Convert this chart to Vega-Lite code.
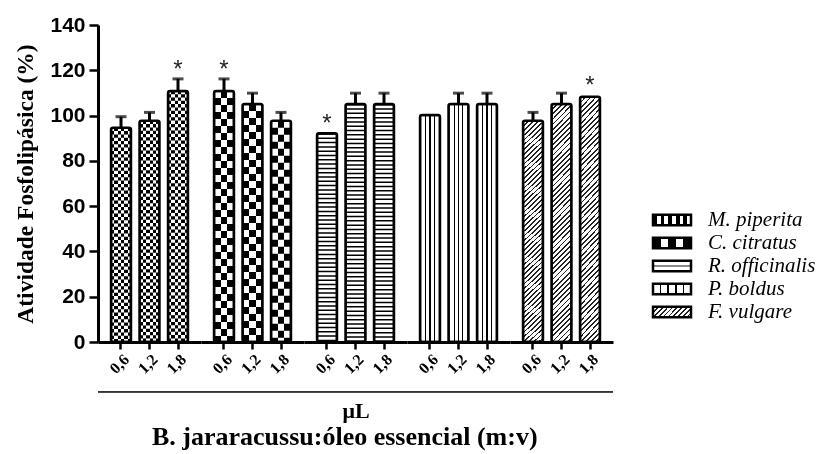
{
  "$schema": "https://vega.github.io/schema/vega-lite/v6.json",
  "padding": {"left": 13, "top": 14, "right": 4, "bottom": 4},
  "background": "white",
  "data": {"values": [
    {"species": "M. piperita", "dose": "0,6", "value": 94.6, "upper": 99.5, "star": null},
    {"species": "M. piperita", "dose": "1,2", "value": 97.7, "upper": 101.4, "star": null},
    {"species": "M. piperita", "dose": "1,8", "value": 110.9, "upper": 116.2, "star": 117},
    {"species": "C. citratus", "dose": "0,6", "value": 110.9, "upper": 116.2, "star": 117},
    {"species": "C. citratus", "dose": "1,2", "value": 105.1, "upper": 109.9, "star": null},
    {"species": "C. citratus", "dose": "1,8", "value": 97.7, "upper": 101.4, "star": null},
    {"species": "R. officinalis", "dose": "0,6", "value": 92.2, "upper": 92.2, "star": 93},
    {"species": "R. officinalis", "dose": "1,2", "value": 105.1, "upper": 109.9, "star": null},
    {"species": "R. officinalis", "dose": "1,8", "value": 105.1, "upper": 109.9, "star": null},
    {"species": "P. boldus", "dose": "0,6", "value": 100.3, "upper": 100.3, "star": null},
    {"species": "P. boldus", "dose": "1,2", "value": 105.1, "upper": 109.9, "star": null},
    {"species": "P. boldus", "dose": "1,8", "value": 105.1, "upper": 109.9, "star": null},
    {"species": "F. vulgare", "dose": "0,6", "value": 97.7, "upper": 101.4, "star": null},
    {"species": "F. vulgare", "dose": "1,2", "value": 105.1, "upper": 109.9, "star": null},
    {"species": "F. vulgare", "dose": "1,8", "value": 108.3, "upper": 108.3, "star": 110}
  ]},
  "title": {"text": "B. jararacussu:óleo essencial (m:v)", "orient": "bottom", "anchor": "start", "frame": "group", "dx": 54, "font": "Liberation Serif", "fontSize": 26, "fontWeight": "bold", "color": "#000", "offset": 2},
  "bounds": "flush",
  "facet": {"column": {"field": "species", "type": "nominal",
    "sort": ["M. piperita", "C. citratus", "R. officinalis", "P. boldus", "F. vulgare"],
    "header": {"title": "μL", "titleOrient": "bottom", "labels": false, "titleFont": "Liberation Serif", "titleFontSize": 22, "titleFontWeight": "bold", "titleColor": "#000", "titlePadding": 14}}},
  "spacing": 0,
  "spec": {
    "width": 103,
    "height": 317,
    "layer": [
      {
        "mark": {"type": "bar", "cornerRadius": 2, "strokeWidth": 0},
        "encoding": {
          "x": {"field": "dose", "type": "nominal", "sort": ["0,6", "1,2", "1,8"],
            "scale": {"paddingInner": 0.3, "paddingOuter": 0.457},
            "axis": {"title": null, "orient": "bottom", "labelAngle": -45, "bandPosition": 0.5, "domainWidth": 3, "domainColor": "#000", "tickColor": "#000", "tickWidth": 2.5, "tickSize": 7, "labelFont": "Liberation Serif", "labelFontWeight": "bold", "labelFontSize": 16, "labelColor": "#000", "labelPadding": 2}},
          "y": {"field": "value", "type": "quantitative",
            "scale": {"domain": [0, 140], "nice": false},
            "axis": {"title": "Atividade Fosfolipásica (%)", "titleFont": "Liberation Serif", "titleFontSize": 23.5, "titleFontWeight": "bold", "titleColor": "#000", "titlePadding": 12,
              "values": [0, 10, 20, 30, 40, 50, 60, 70, 80, 90, 100, 110, 120, 130, 140],
              "labelExpr": "datum.value % 20 === 0 ? datum.label : ''",
              "labelFont": "Liberation Sans", "labelFontWeight": "bold", "labelFontSize": 21, "labelColor": "#000", "labelPadding": 4,
              "tickSize": {"condition": {"test": "datum.value % 20 === 0", "value": 9}, "value": 5},
              "tickWidth": 2.5, "tickColor": "#000", "domainWidth": 3, "domainColor": "#000", "grid": false}},
          "fill": {"field": "species", "type": "nominal",
            "scale": {"domain": ["M. piperita", "C. citratus", "R. officinalis", "P. boldus", "F. vulgare"],
              "range": [
                {"expr": "{gradient:'linear',x1:0,y1:0,x2:1,y2:0,stops:[{offset:0,color:'#000'},{offset:0.1,color:'#000'},{offset:0.1,color:'#fff'},{offset:0.2,color:'#fff'},{offset:0.2,color:'#000'},{offset:0.3,color:'#000'},{offset:0.3,color:'#fff'},{offset:0.4,color:'#fff'},{offset:0.4,color:'#000'},{offset:0.5,color:'#000'},{offset:0.5,color:'#fff'},{offset:0.6,color:'#fff'},{offset:0.6,color:'#000'},{offset:0.7,color:'#000'},{offset:0.7,color:'#fff'},{offset:0.8,color:'#fff'},{offset:0.8,color:'#000'},{offset:0.9,color:'#000'},{offset:0.9,color:'#fff'},{offset:1,color:'#fff'}]}"},
                {"expr": "{gradient:'linear',x1:0,y1:0,x2:1,y2:0,stops:[{offset:0,color:'#000'},{offset:0.2,color:'#000'},{offset:0.2,color:'#fff'},{offset:0.4,color:'#fff'},{offset:0.4,color:'#000'},{offset:0.6,color:'#000'},{offset:0.6,color:'#fff'},{offset:0.8,color:'#fff'},{offset:0.8,color:'#000'},{offset:1,color:'#000'}]}"},
                {"expr": "{gradient:'linear',x1:0,y1:0,x2:0,y2:1,stops:[{offset:0,color:'#fff'},{offset:0.42,color:'#fff'},{offset:0.42,color:'#888'},{offset:0.58,color:'#888'},{offset:0.58,color:'#fff'},{offset:1,color:'#fff'}]}"},
                {"expr": "{gradient:'linear',x1:0,y1:0,x2:1,y2:0,stops:[{offset:0,color:'#fff'},{offset:0.18,color:'#fff'},{offset:0.18,color:'#000'},{offset:0.22,color:'#000'},{offset:0.22,color:'#fff'},{offset:0.38,color:'#fff'},{offset:0.38,color:'#000'},{offset:0.42,color:'#000'},{offset:0.42,color:'#fff'},{offset:0.58,color:'#fff'},{offset:0.58,color:'#000'},{offset:0.62,color:'#000'},{offset:0.62,color:'#fff'},{offset:0.78,color:'#fff'},{offset:0.78,color:'#000'},{offset:0.82,color:'#000'},{offset:0.82,color:'#fff'},{offset:1,color:'#fff'}]}"},
                {"expr": "{gradient:'linear',x1:0,y1:0,x2:1.1814,y2:0.3109,stops:[{offset:0,color:'#222'},{offset:0.035,color:'#222'},{offset:0.035,color:'#fff'},{offset:0.1,color:'#fff'},{offset:0.1,color:'#222'},{offset:0.135,color:'#222'},{offset:0.135,color:'#fff'},{offset:0.2,color:'#fff'},{offset:0.2,color:'#222'},{offset:0.235,color:'#222'},{offset:0.235,color:'#fff'},{offset:0.3,color:'#fff'},{offset:0.3,color:'#222'},{offset:0.335,color:'#222'},{offset:0.335,color:'#fff'},{offset:0.4,color:'#fff'},{offset:0.4,color:'#222'},{offset:0.435,color:'#222'},{offset:0.435,color:'#fff'},{offset:0.5,color:'#fff'},{offset:0.5,color:'#222'},{offset:0.535,color:'#222'},{offset:0.535,color:'#fff'},{offset:0.6,color:'#fff'},{offset:0.6,color:'#222'},{offset:0.635,color:'#222'},{offset:0.635,color:'#fff'},{offset:0.7,color:'#fff'},{offset:0.7,color:'#222'},{offset:0.735,color:'#222'},{offset:0.735,color:'#fff'},{offset:0.8,color:'#fff'},{offset:0.8,color:'#222'},{offset:0.835,color:'#222'},{offset:0.835,color:'#fff'},{offset:0.9,color:'#fff'},{offset:0.9,color:'#222'},{offset:0.935,color:'#222'},{offset:0.935,color:'#fff'},{offset:1,color:'#fff'}]}"}
              ]},
            "legend": {"orient": "none", "legendX": 563, "legendY": 184, "title": null, "padding": 0,
              "symbolType": "M-2,-0.54H2V0.54H-2Z", "symbolSize": 361, "symbolStrokeColor": "#000", "symbolStrokeWidth": 2.5,
              "labelFont": "Liberation Serif", "labelFontStyle": "italic", "labelFontSize": 21, "labelColor": "#000", "labelOffset": 25, "rowPadding": 1}}
        }
      },
      {
        "transform": [{"filter": "datum.species === 'R. officinalis'"}],
        "mark": {"type": "bar", "cornerRadius": 2, "strokeWidth": 0, "fill": "#fff"},
        "encoding": {
          "x": {"field": "dose", "type": "nominal", "sort": ["0,6", "1,2", "1,8"]},
          "y": {"field": "value", "type": "quantitative"}
        }
      },
      {
        "transform": [{"filter": "datum.species === 'M. piperita'"}],
        "mark": {"type": "bar", "cornerRadius": 2, "strokeWidth": 0,
          "fill": {"gradient": "linear", "x1": 0, "y1": 0, "x2": 1, "y2": 0, "stops": [
            {"offset": 0, "color": "#000"}, {"offset": 0.1667, "color": "#000"}, {"offset": 0.1667, "color": "#fff"}, {"offset": 0.3333, "color": "#fff"},
            {"offset": 0.3333, "color": "#000"}, {"offset": 0.5, "color": "#000"}, {"offset": 0.5, "color": "#fff"}, {"offset": 0.6667, "color": "#fff"},
            {"offset": 0.6667, "color": "#000"}, {"offset": 0.8333, "color": "#000"}, {"offset": 0.8333, "color": "#fff"}, {"offset": 1, "color": "#fff"}]}},
        "encoding": {
          "x": {"field": "dose", "type": "nominal", "sort": ["0,6", "1,2", "1,8"]},
          "y": {"field": "value", "type": "quantitative"}
        }
      },
      {
        "transform": [{"filter": "datum.species === 'C. citratus'"}],
        "mark": {"type": "bar", "cornerRadius": 2, "strokeWidth": 0,
          "fill": {"gradient": "linear", "x1": 0, "y1": 0, "x2": 1, "y2": 0, "stops": [
            {"offset": 0, "color": "#000"}, {"offset": 0.3333, "color": "#000"}, {"offset": 0.3333, "color": "#fff"}, {"offset": 0.6667, "color": "#fff"},
            {"offset": 0.6667, "color": "#000"}, {"offset": 1, "color": "#000"}]}},
        "encoding": {
          "x": {"field": "dose", "type": "nominal", "sort": ["0,6", "1,2", "1,8"]},
          "y": {"field": "value", "type": "quantitative"}
        }
      },
      {
        "transform": [{"filter": "datum.species === 'P. boldus'"}],
        "mark": {"type": "bar", "cornerRadius": 2, "strokeWidth": 0,
          "fill": {"gradient": "linear", "x1": 0, "y1": 0, "x2": 1, "y2": 0, "stops": [
            {"offset": 0, "color": "#fff"}, {"offset": 0.25, "color": "#fff"}, {"offset": 0.25, "color": "#000"}, {"offset": 0.31, "color": "#000"},
            {"offset": 0.31, "color": "#fff"}, {"offset": 0.47, "color": "#fff"}, {"offset": 0.47, "color": "#000"}, {"offset": 0.53, "color": "#000"},
            {"offset": 0.53, "color": "#fff"}, {"offset": 0.69, "color": "#fff"}, {"offset": 0.69, "color": "#000"}, {"offset": 0.75, "color": "#000"},
            {"offset": 0.75, "color": "#fff"}, {"offset": 1, "color": "#fff"}]}},
        "encoding": {
          "x": {"field": "dose", "type": "nominal", "sort": ["0,6", "1,2", "1,8"]},
          "y": {"field": "value", "type": "quantitative"}
        }
      },
      {
        "transform": [{"filter": "datum.species === 'F. vulgare'"}],
        "mark": {"type": "bar", "cornerRadius": 2, "strokeWidth": 0,
          "fill": {"gradient": "linear", "x1": 0, "y1": 0, "x2": 0.0917, "y2": 1.0773, "stops": [
            {"offset":0,"color":"#222"},{"offset":0.007,"color":"#222"},{"offset":0.007,"color":"#fff"},{"offset":0.02,"color":"#fff"},
            {"offset":0.02,"color":"#222"},{"offset":0.027,"color":"#222"},{"offset":0.027,"color":"#fff"},{"offset":0.04,"color":"#fff"},
            {"offset":0.04,"color":"#222"},{"offset":0.047,"color":"#222"},{"offset":0.047,"color":"#fff"},{"offset":0.06,"color":"#fff"},
            {"offset":0.06,"color":"#222"},{"offset":0.067,"color":"#222"},{"offset":0.067,"color":"#fff"},{"offset":0.08,"color":"#fff"},
            {"offset":0.08,"color":"#222"},{"offset":0.087,"color":"#222"},{"offset":0.087,"color":"#fff"},{"offset":0.1,"color":"#fff"},
            {"offset":0.1,"color":"#222"},{"offset":0.107,"color":"#222"},{"offset":0.107,"color":"#fff"},{"offset":0.12,"color":"#fff"},
            {"offset":0.12,"color":"#222"},{"offset":0.127,"color":"#222"},{"offset":0.127,"color":"#fff"},{"offset":0.14,"color":"#fff"},
            {"offset":0.14,"color":"#222"},{"offset":0.147,"color":"#222"},{"offset":0.147,"color":"#fff"},{"offset":0.16,"color":"#fff"},
            {"offset":0.16,"color":"#222"},{"offset":0.167,"color":"#222"},{"offset":0.167,"color":"#fff"},{"offset":0.18,"color":"#fff"},
            {"offset":0.18,"color":"#222"},{"offset":0.187,"color":"#222"},{"offset":0.187,"color":"#fff"},{"offset":0.2,"color":"#fff"},
            {"offset":0.2,"color":"#222"},{"offset":0.207,"color":"#222"},{"offset":0.207,"color":"#fff"},{"offset":0.22,"color":"#fff"},
            {"offset":0.22,"color":"#222"},{"offset":0.227,"color":"#222"},{"offset":0.227,"color":"#fff"},{"offset":0.24,"color":"#fff"},
            {"offset":0.24,"color":"#222"},{"offset":0.247,"color":"#222"},{"offset":0.247,"color":"#fff"},{"offset":0.26,"color":"#fff"},
            {"offset":0.26,"color":"#222"},{"offset":0.267,"color":"#222"},{"offset":0.267,"color":"#fff"},{"offset":0.28,"color":"#fff"},
            {"offset":0.28,"color":"#222"},{"offset":0.287,"color":"#222"},{"offset":0.287,"color":"#fff"},{"offset":0.3,"color":"#fff"},
            {"offset":0.3,"color":"#222"},{"offset":0.307,"color":"#222"},{"offset":0.307,"color":"#fff"},{"offset":0.32,"color":"#fff"},
            {"offset":0.32,"color":"#222"},{"offset":0.327,"color":"#222"},{"offset":0.327,"color":"#fff"},{"offset":0.34,"color":"#fff"},
            {"offset":0.34,"color":"#222"},{"offset":0.347,"color":"#222"},{"offset":0.347,"color":"#fff"},{"offset":0.36,"color":"#fff"},
            {"offset":0.36,"color":"#222"},{"offset":0.367,"color":"#222"},{"offset":0.367,"color":"#fff"},{"offset":0.38,"color":"#fff"},
            {"offset":0.38,"color":"#222"},{"offset":0.387,"color":"#222"},{"offset":0.387,"color":"#fff"},{"offset":0.4,"color":"#fff"},
            {"offset":0.4,"color":"#222"},{"offset":0.407,"color":"#222"},{"offset":0.407,"color":"#fff"},{"offset":0.42,"color":"#fff"},
            {"offset":0.42,"color":"#222"},{"offset":0.427,"color":"#222"},{"offset":0.427,"color":"#fff"},{"offset":0.44,"color":"#fff"},
            {"offset":0.44,"color":"#222"},{"offset":0.447,"color":"#222"},{"offset":0.447,"color":"#fff"},{"offset":0.46,"color":"#fff"},
            {"offset":0.46,"color":"#222"},{"offset":0.467,"color":"#222"},{"offset":0.467,"color":"#fff"},{"offset":0.48,"color":"#fff"},
            {"offset":0.48,"color":"#222"},{"offset":0.487,"color":"#222"},{"offset":0.487,"color":"#fff"},{"offset":0.5,"color":"#fff"},
            {"offset":0.5,"color":"#222"},{"offset":0.507,"color":"#222"},{"offset":0.507,"color":"#fff"},{"offset":0.52,"color":"#fff"},
            {"offset":0.52,"color":"#222"},{"offset":0.527,"color":"#222"},{"offset":0.527,"color":"#fff"},{"offset":0.54,"color":"#fff"},
            {"offset":0.54,"color":"#222"},{"offset":0.547,"color":"#222"},{"offset":0.547,"color":"#fff"},{"offset":0.56,"color":"#fff"},
            {"offset":0.56,"color":"#222"},{"offset":0.567,"color":"#222"},{"offset":0.567,"color":"#fff"},{"offset":0.58,"color":"#fff"},
            {"offset":0.58,"color":"#222"},{"offset":0.587,"color":"#222"},{"offset":0.587,"color":"#fff"},{"offset":0.6,"color":"#fff"},
            {"offset":0.6,"color":"#222"},{"offset":0.607,"color":"#222"},{"offset":0.607,"color":"#fff"},{"offset":0.62,"color":"#fff"},
            {"offset":0.62,"color":"#222"},{"offset":0.627,"color":"#222"},{"offset":0.627,"color":"#fff"},{"offset":0.64,"color":"#fff"},
            {"offset":0.64,"color":"#222"},{"offset":0.647,"color":"#222"},{"offset":0.647,"color":"#fff"},{"offset":0.66,"color":"#fff"},
            {"offset":0.66,"color":"#222"},{"offset":0.667,"color":"#222"},{"offset":0.667,"color":"#fff"},{"offset":0.68,"color":"#fff"},
            {"offset":0.68,"color":"#222"},{"offset":0.687,"color":"#222"},{"offset":0.687,"color":"#fff"},{"offset":0.7,"color":"#fff"},
            {"offset":0.7,"color":"#222"},{"offset":0.707,"color":"#222"},{"offset":0.707,"color":"#fff"},{"offset":0.72,"color":"#fff"},
            {"offset":0.72,"color":"#222"},{"offset":0.727,"color":"#222"},{"offset":0.727,"color":"#fff"},{"offset":0.74,"color":"#fff"},
            {"offset":0.74,"color":"#222"},{"offset":0.747,"color":"#222"},{"offset":0.747,"color":"#fff"},{"offset":0.76,"color":"#fff"},
            {"offset":0.76,"color":"#222"},{"offset":0.767,"color":"#222"},{"offset":0.767,"color":"#fff"},{"offset":0.78,"color":"#fff"},
            {"offset":0.78,"color":"#222"},{"offset":0.787,"color":"#222"},{"offset":0.787,"color":"#fff"},{"offset":0.8,"color":"#fff"},
            {"offset":0.8,"color":"#222"},{"offset":0.807,"color":"#222"},{"offset":0.807,"color":"#fff"},{"offset":0.82,"color":"#fff"},
            {"offset":0.82,"color":"#222"},{"offset":0.827,"color":"#222"},{"offset":0.827,"color":"#fff"},{"offset":0.84,"color":"#fff"},
            {"offset":0.84,"color":"#222"},{"offset":0.847,"color":"#222"},{"offset":0.847,"color":"#fff"},{"offset":0.86,"color":"#fff"},
            {"offset":0.86,"color":"#222"},{"offset":0.867,"color":"#222"},{"offset":0.867,"color":"#fff"},{"offset":0.88,"color":"#fff"},
            {"offset":0.88,"color":"#222"},{"offset":0.887,"color":"#222"},{"offset":0.887,"color":"#fff"},{"offset":0.9,"color":"#fff"},
            {"offset":0.9,"color":"#222"},{"offset":0.907,"color":"#222"},{"offset":0.907,"color":"#fff"},{"offset":0.92,"color":"#fff"},
            {"offset":0.92,"color":"#222"},{"offset":0.927,"color":"#222"},{"offset":0.927,"color":"#fff"},{"offset":0.94,"color":"#fff"},
            {"offset":0.94,"color":"#222"},{"offset":0.947,"color":"#222"},{"offset":0.947,"color":"#fff"},{"offset":0.96,"color":"#fff"},
            {"offset":0.96,"color":"#222"},{"offset":0.967,"color":"#222"},{"offset":0.967,"color":"#fff"},{"offset":0.98,"color":"#fff"},
            {"offset":0.98,"color":"#222"},{"offset":0.987,"color":"#222"},{"offset":0.987,"color":"#fff"},{"offset":1,"color":"#fff"}]}},
        "encoding": {
          "x": {"field": "dose", "type": "nominal", "sort": ["0,6", "1,2", "1,8"]},
          "y": {"field": "value", "type": "quantitative"}
        }
      },
      {
        "transform": [{"filter": "datum.species === 'R. officinalis'"}],
        "mark": {"type": "rule", "stroke": "#000", "strokeWidth": 20, "strokeDash": [1.5, 2.8], "strokeCap": "butt"},
        "encoding": {
          "x": {"field": "dose", "type": "nominal", "sort": ["0,6", "1,2", "1,8"]},
          "y": {"field": "value", "type": "quantitative"},
          "y2": {"datum": 0}
        }
      },
      {
        "transform": [{"filter": "datum.species === 'M. piperita'"}],
        "mark": {"type": "rule", "stroke": "#fff", "strokeWidth": 20, "strokeDash": [3.3, 3.3], "strokeCap": "butt", "blend": "difference"},
        "encoding": {
          "x": {"field": "dose", "type": "nominal", "sort": ["0,6", "1,2", "1,8"]},
          "y": {"field": "value", "type": "quantitative"},
          "y2": {"datum": 0}
        }
      },
      {
        "transform": [{"filter": "datum.species === 'C. citratus'"}],
        "mark": {"type": "rule", "stroke": "#fff", "strokeWidth": 20, "strokeDash": [7, 7], "strokeCap": "butt", "blend": "difference"},
        "encoding": {
          "x": {"field": "dose", "type": "nominal", "sort": ["0,6", "1,2", "1,8"]},
          "y": {"field": "value", "type": "quantitative"},
          "y2": {"datum": 0}
        }
      },
      {
        "transform": [{"filter": "datum.upper > datum.value"}],
        "mark": {"type": "rule", "stroke": "#000", "strokeWidth": 3},
        "encoding": {
          "x": {"field": "dose", "type": "nominal", "sort": ["0,6", "1,2", "1,8"]},
          "y": {"field": "value", "type": "quantitative"},
          "y2": {"field": "upper"}
        }
      },
      {
        "transform": [{"filter": "datum.upper > datum.value"}],
        "mark": {"type": "tick", "color": "#000", "size": 11, "thickness": 3, "orient": "horizontal"},
        "encoding": {
          "x": {"field": "dose", "type": "nominal", "sort": ["0,6", "1,2", "1,8"]},
          "y": {"field": "upper", "type": "quantitative"}
        }
      },
      {
        "mark": {"type": "bar", "cornerRadius": 2, "fill": "#fff", "fillOpacity": 0, "stroke": "#000", "strokeWidth": 2.5},
        "encoding": {
          "x": {"field": "dose", "type": "nominal", "sort": ["0,6", "1,2", "1,8"]},
          "y": {"field": "value", "type": "quantitative"}
        }
      },
      {
        "transform": [{"filter": "isValid(datum.star)"}],
        "mark": {"type": "text", "text": "*", "font": "Liberation Sans", "fontSize": 24, "color": "#222", "baseline": "alphabetic"},
        "encoding": {
          "x": {"field": "dose", "type": "nominal", "sort": ["0,6", "1,2", "1,8"]},
          "y": {"field": "star", "type": "quantitative"}
        }
      },
      {
        "mark": {"type": "rule", "stroke": "#333", "strokeWidth": 1.5},
        "encoding": {
          "y": {"datum": -22}
        }
      }
    ]
  },
  "config": {"view": {"stroke": null}}
}
